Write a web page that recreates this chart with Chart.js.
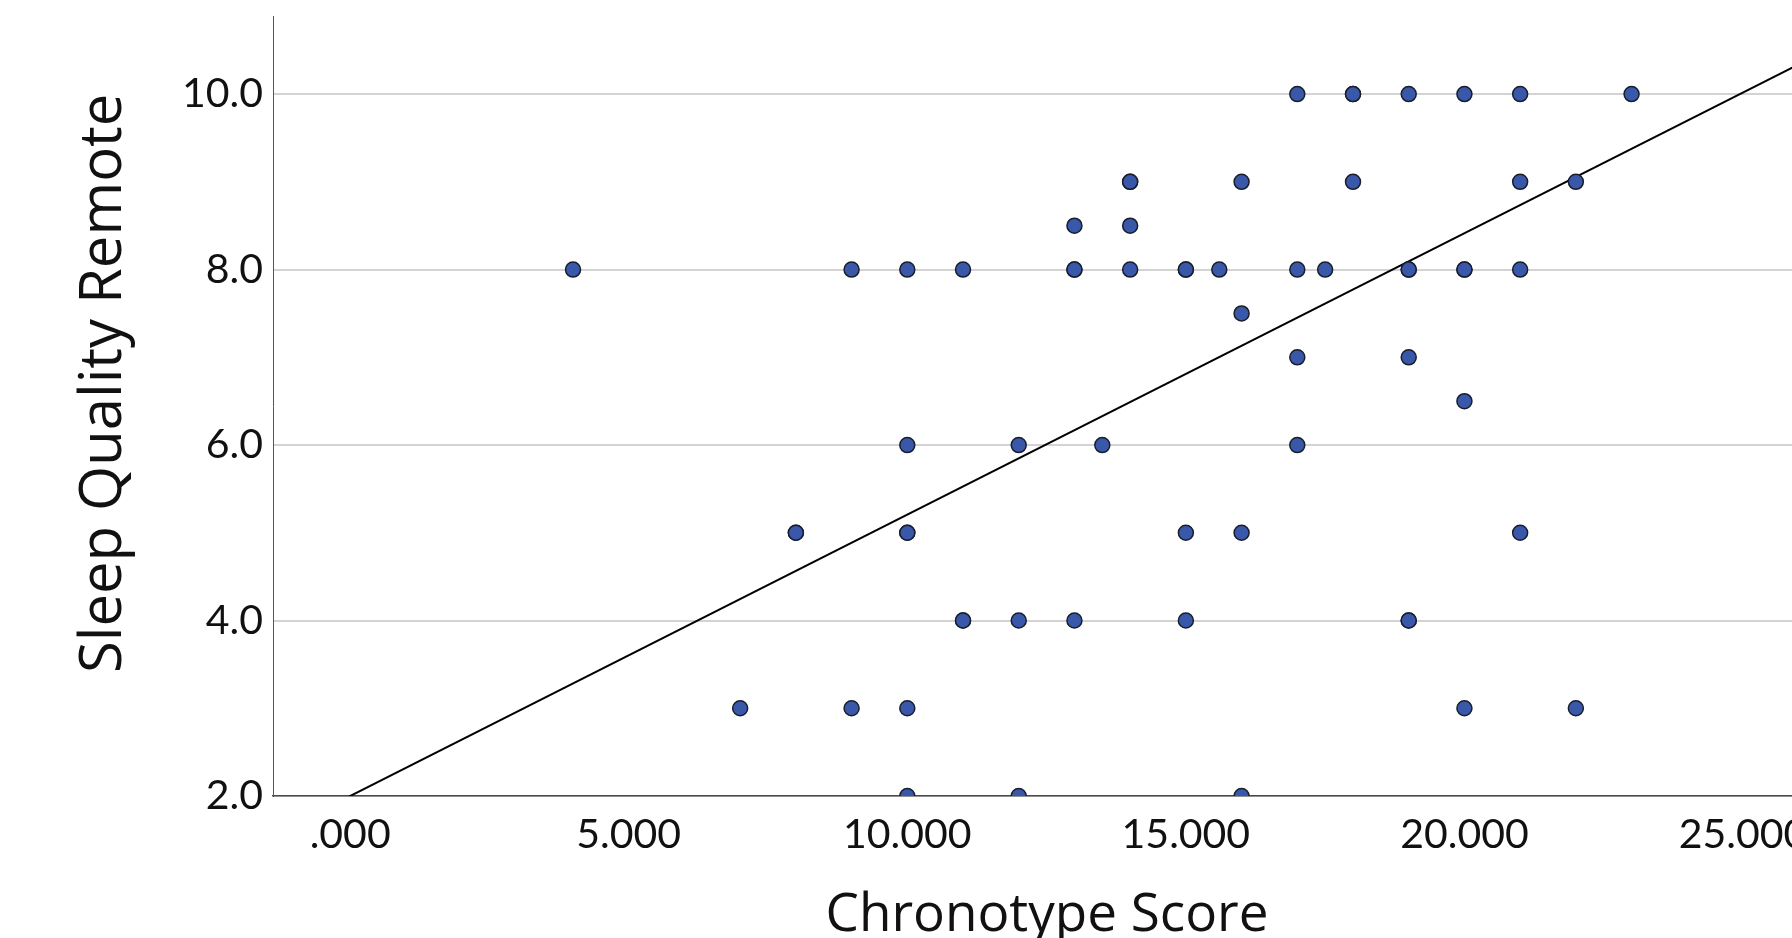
<!DOCTYPE html>
<html>
<head>
<meta charset="utf-8">
<script src="https://cdn.jsdelivr.net/npm/chart.js@4.4.1/dist/chart.umd.min.js"></script>
<style>
  html, body { margin: 0; padding: 0; background: #fff; overflow: hidden; }
  #wrap { width: 1830px; height: 938px; }
</style>
</head>
<body>
<div id="wrap"><canvas id="scatter" width="1830" height="938"></canvas></div>
<script>
// Chronotype score (x) vs sleep quality remote (y)
var chronotype = [
  17, 18, 18, 19, 20, 21, 23,
  14, 14, 16, 18, 21, 22,
  13, 14,
  4, 9, 10, 11, 13, 13, 14, 15, 15, 15.6, 17, 17.5, 19, 19, 20, 20, 21,
  16,
  17, 19,
  20,
  10, 12, 13.5, 17,
  8, 8, 10, 10, 15, 16, 21,
  11, 11, 12, 13, 15, 19, 19,
  7, 9, 10, 20, 22,
  10, 12, 16
];
var sleepQuality = [
  10, 10, 10, 10, 10, 10, 10,
  9, 9, 9, 9, 9, 9,
  8.5, 8.5,
  8, 8, 8, 8, 8, 8, 8, 8, 8, 8, 8, 8, 8, 8, 8, 8, 8,
  7.5,
  7, 7,
  6.5,
  6, 6, 6, 6,
  5, 5, 5, 5, 5, 5, 5,
  4, 4, 4, 4, 4, 4, 4,
  3, 3, 3, 3, 3,
  2, 2, 2
];

// linear fit line
var fitIntercept = 2.0;
var fitSlope = 0.3207;

var xTicks = [0, 5, 10, 15, 20, 25];
var yTicks = [2, 4, 6, 8, 10];
var xMin = -1.385, xMax = 26.4;
var yMin = 2, yMax = 10.89;

var points = chronotype.map(function (x, i) { return { x: x, y: sleepQuality[i] }; });
var fitLine = [xMin, xMax].map(function (x) { return { x: x, y: fitIntercept + fitSlope * x }; });

var ctx = document.getElementById('scatter').getContext('2d');

var chart = new Chart(ctx, {
  type: 'scatter',
  data: {
    datasets: [{
      label: 'Sleep Quality Remote',
      data: points,
      backgroundColor: 'rgb(58, 88, 170)',
      borderColor: 'rgb(25, 30, 45)',
      borderWidth: 1.5,
      pointRadius: 7.5,
      clip: 0
    }, {
      type: 'line',
      label: 'Fit',
      data: fitLine,
      borderColor: '#000',
      borderWidth: 2,
      pointRadius: 0,
      fill: false,
      clip: 0
    }]
  },
  options: {
    responsive: false,
    animation: false,
    layout: { padding: { left: 0, top: 16, right: 0, bottom: 0 } },
    plugins: {
      legend: { display: false },
      tooltip: { enabled: false }
    },
    scales: {
      x: {
        type: 'linear',
        min: xMin,
        max: xMax,
        afterBuildTicks: function (scale) {
          scale.ticks = xTicks.map(function (v) { return { value: v }; });
        },
        afterFit: function (scale) {
          scale.height = 142;
          scale.paddingLeft = 0;
          scale.paddingRight = 0;
        },
        grid: { display: false, drawTicks: false },
        border: { display: true, color: '#4a4a4a', width: 1.5 },
        ticks: {
          padding: 14,
          color: '#111',
          maxRotation: 0,
          autoSkip: false,
          font: { family: 'Lato', size: 41 },
          callback: function (v) { return v.toFixed(3).replace(/^0\./, '.'); }
        },
        title: {
          display: true,
          text: 'Chronotype Score',
          color: '#111',
          font: { family: 'Open Sans', size: 53, lineHeight: 0.85 },
          padding: { top: 0, bottom: 0 }
        }
      },
      y: {
        type: 'linear',
        min: yMin,
        max: yMax,
        afterBuildTicks: function (scale) {
          scale.ticks = yTicks.map(function (v) { return { value: v }; });
        },
        afterFit: function (scale) {
          scale.width = 273;
          scale.paddingTop = 0;
          scale.paddingBottom = 0;
        },
        grid: { color: '#d3d3d3', lineWidth: 2, drawTicks: false },
        border: { display: true, color: '#555', width: 1 },
        ticks: {
          padding: 10,
          color: '#111',
          font: { family: 'Lato', size: 41 },
          callback: function (v) { return v.toFixed(1); }
        },
        title: {
          display: true,
          text: '   Sleep Quality Remote',
          color: '#111',
          font: { family: 'Open Sans', size: 58 },
          padding: { top: 70, bottom: 0 }
        }
      }
    }
  }
});
</script>
</body>
</html>
